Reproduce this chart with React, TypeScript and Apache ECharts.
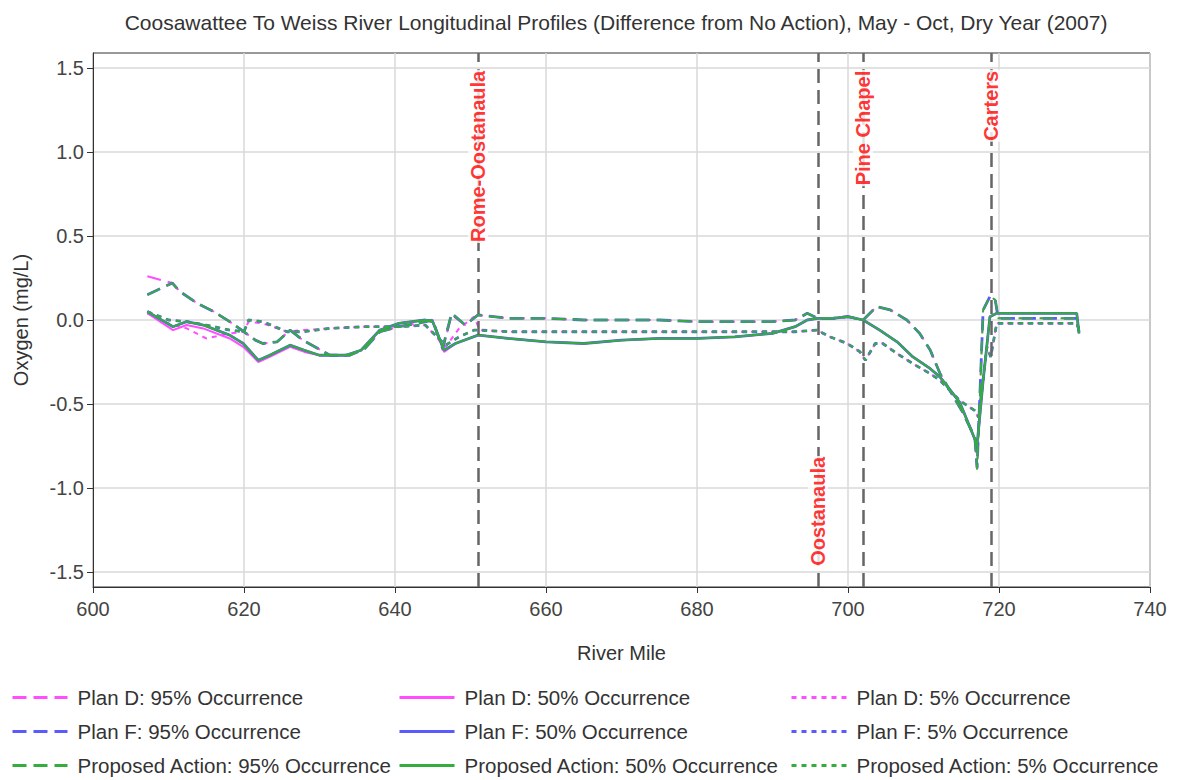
import React, { useEffect, useRef } from 'react';
import * as echarts from 'echarts';

const TITLE = 'Coosawattee To Weiss River Longitudinal Profiles (Difference from No Action), May - Oct, Dry Year (2007)';
const X_NAME = 'River Mile';
const Y_NAME = 'Oxygen (mg/L)';
const FONT = '"Liberation Sans", Arial, sans-serif';

const yTickValues = [-1.5, -1.0, -0.5, 0.0, 0.5, 1.0, 1.5];

// 95% occurrence profiles
const miles95 = [607.2, 610.5, 611.5, 613.8, 616.0, 618.1, 620.0, 621.5, 622.5, 624.4, 626.1, 627.8, 631.4, 634.0, 636.0, 638.0, 640.5, 643.0, 645.0, 646.3, 647.5, 649.3, 651.0, 655, 660, 665, 670, 675, 680, 685, 690, 693.0, 694.6, 696.0, 698.0, 700.0, 702.0, 703.8, 705.6, 707.8, 709.5, 710.9, 712.2, 715.2, 716.8, 717.1, 717.9, 718.8, 719.5, 719.9, 725.0, 730.3, 730.6];
const planD95 = [0.26, 0.22, 0.17, 0.10, 0.05, -0.01, -0.07, -0.12, -0.14, -0.13, -0.06, -0.12, -0.21, -0.21, -0.17, -0.07, -0.04, -0.02, 0.0, -0.18, 0.03, -0.03, 0.03, 0.01, 0.01, 0.0, 0.0, 0.0, -0.01, -0.01, -0.01, 0.0, 0.04, 0.01, 0.01, 0.02, 0.0, 0.08, 0.06, 0.0, -0.08, -0.18, -0.32, -0.55, -0.70, -0.89, 0.06, 0.14, 0.12, 0.01, 0.01, 0.01, -0.07];
const planF95 = [0.15, 0.22, 0.17, 0.10, 0.05, -0.01, -0.07, -0.12, -0.14, -0.13, -0.06, -0.12, -0.21, -0.21, -0.17, -0.07, -0.04, -0.02, 0.0, -0.17, 0.04, -0.03, 0.03, 0.01, 0.01, 0.0, 0.0, 0.0, -0.01, -0.01, -0.01, 0.0, 0.04, 0.01, 0.01, 0.02, 0.0, 0.08, 0.06, 0.0, -0.08, -0.18, -0.32, -0.55, -0.70, -0.88, 0.06, 0.14, 0.12, 0.01, 0.01, 0.01, -0.07];
const proposed95 = [0.15, 0.22, 0.17, 0.10, 0.05, -0.01, -0.07, -0.12, -0.14, -0.13, -0.06, -0.12, -0.21, -0.21, -0.17, -0.07, -0.04, -0.02, 0.0, -0.17, 0.04, -0.03, 0.03, 0.01, 0.01, 0.0, 0.0, 0.0, -0.01, -0.01, -0.01, 0.0, 0.04, 0.01, 0.01, 0.02, 0.0, 0.08, 0.06, 0.0, -0.08, -0.18, -0.32, -0.55, -0.70, -0.89, 0.06, 0.14, 0.12, 0.01, 0.01, 0.01, -0.07];

// 50% occurrence profiles
const miles50 = [607.2, 610.6, 612.4, 614.6, 618.1, 619.9, 621.9, 623.4, 626.1, 628.0, 630.0, 633.5, 635.5, 638.0, 640.5, 644.0, 645.0, 646.5, 648.0, 651.0, 655, 660, 665, 670, 675, 680, 685, 690, 693.0, 694.6, 696.0, 698.0, 700.0, 702.0, 704.2, 706.5, 708.6, 710.9, 712.2, 714.8, 716.8, 717.1, 717.9, 718.8, 719.7, 725.0, 730.3, 730.6];
const planD50 = [0.04, -0.06, -0.03, -0.05, -0.11, -0.16, -0.25, -0.22, -0.16, -0.19, -0.21, -0.21, -0.18, -0.06, -0.02, 0.0, -0.01, -0.19, -0.14, -0.09, -0.11, -0.13, -0.14, -0.12, -0.11, -0.11, -0.10, -0.08, -0.04, 0.0, 0.01, 0.01, 0.02, 0.0, -0.06, -0.13, -0.22, -0.29, -0.34, -0.49, -0.71, -0.75, -0.36, 0.02, 0.04, 0.04, 0.04, -0.08];
const planF50 = [0.05, -0.04, -0.01, -0.03, -0.09, -0.14, -0.24, -0.21, -0.15, -0.18, -0.21, -0.21, -0.18, -0.06, -0.02, 0.0, -0.01, -0.18, -0.14, -0.09, -0.11, -0.13, -0.14, -0.12, -0.11, -0.11, -0.10, -0.08, -0.04, 0.0, 0.01, 0.01, 0.02, 0.0, -0.06, -0.13, -0.22, -0.29, -0.34, -0.49, -0.71, -0.74, -0.36, 0.02, 0.04, 0.04, 0.04, -0.08];
const proposed50 = [0.05, -0.04, -0.01, -0.03, -0.09, -0.14, -0.24, -0.21, -0.15, -0.18, -0.21, -0.21, -0.18, -0.06, -0.02, 0.0, -0.01, -0.18, -0.14, -0.09, -0.11, -0.13, -0.14, -0.12, -0.11, -0.11, -0.10, -0.08, -0.04, 0.0, 0.01, 0.01, 0.02, 0.0, -0.06, -0.13, -0.22, -0.29, -0.34, -0.49, -0.71, -0.75, -0.36, 0.02, 0.04, 0.04, 0.04, -0.08];

// 5% occurrence profiles
const miles5 = [607.2, 610.0, 612.4, 615.0, 618.1, 620.0, 620.6, 622.5, 625.7, 627.8, 631.4, 636.0, 640.7, 644.0, 646.7, 648.5, 650.5, 651.2, 655, 660, 665, 670, 675, 680, 685, 690, 693.0, 695.9, 697.6, 699.9, 701.6, 702.3, 703.6, 704.6, 706.5, 708.6, 710.9, 712.2, 714.8, 716.8, 717.3, 718.4, 718.9, 719.7, 725.0, 730.3, 730.6];
const planD5 = [0.04, -0.02, -0.05, -0.11, -0.08, -0.07, -0.01, -0.02, -0.07, -0.06, -0.05, -0.04, -0.04, -0.03, -0.16, -0.05, 0.02, -0.06, -0.07, -0.07, -0.07, -0.07, -0.07, -0.07, -0.07, -0.07, -0.07, -0.06, -0.10, -0.14, -0.19, -0.24, -0.14, -0.14, -0.20, -0.26, -0.32, -0.36, -0.48, -0.54, -0.58, -0.16, -0.22, -0.02, -0.02, -0.02, -0.06];
const planF5 = [0.05, 0.0, -0.01, -0.03, -0.06, -0.07, 0.0, -0.01, -0.07, -0.07, -0.05, -0.04, -0.04, -0.03, -0.15, -0.10, -0.06, -0.06, -0.07, -0.07, -0.07, -0.07, -0.07, -0.07, -0.07, -0.07, -0.07, -0.06, -0.10, -0.14, -0.19, -0.24, -0.14, -0.14, -0.20, -0.26, -0.32, -0.36, -0.48, -0.54, -0.58, -0.16, -0.22, -0.02, -0.02, -0.02, -0.06];
const proposed5 = [0.05, 0.0, -0.01, -0.03, -0.06, -0.07, 0.0, -0.01, -0.07, -0.07, -0.05, -0.04, -0.04, -0.03, -0.15, -0.10, -0.06, -0.06, -0.07, -0.07, -0.07, -0.07, -0.07, -0.07, -0.07, -0.07, -0.07, -0.06, -0.10, -0.14, -0.19, -0.24, -0.14, -0.14, -0.20, -0.26, -0.32, -0.36, -0.48, -0.54, -0.58, -0.16, -0.22, -0.02, -0.02, -0.02, -0.06];

// reference locations
const markerNames = ['Rome-Oostanaula', 'Oostanaula', 'Pine Chapel', 'Carters'];
const markerMiles = [651, 696, 702, 719];
const markerLabelAnchor = [1.49, -1.47, 1.49, 1.49];

const PINK = '#ff4dff';
const BLUE = '#5a5aff';
const GREEN = '#34ad3e';
const DASH_LONG = [14, 7];
const DASH_DOT = [5, 5];

const zip = (m: number[], v: number[]) => m.map((x, i) => [x, v[i]]);

const seriesDefs = [
  { name: 'Plan D: 95% Occurrence', miles: miles95, vals: planD95, color: PINK, dash: DASH_LONG, width: 2 },
  { name: 'Plan D: 50% Occurrence', miles: miles50, vals: planD50, color: PINK, dash: 'solid', width: 2 },
  { name: 'Plan D: 5% Occurrence', miles: miles5, vals: planD5, color: PINK, dash: DASH_DOT, width: 2 },
  { name: 'Plan F: 95% Occurrence', miles: miles95, vals: planF95, color: BLUE, dash: DASH_LONG, width: 2.8 },
  { name: 'Plan F: 50% Occurrence', miles: miles50, vals: planF50, color: BLUE, dash: 'solid', width: 2.8 },
  { name: 'Plan F: 5% Occurrence', miles: miles5, vals: planF5, color: BLUE, dash: DASH_DOT, width: 2.8 },
  { name: 'Proposed Action: 95% Occurrence', miles: miles95, vals: proposed95, color: GREEN, dash: DASH_LONG, width: 2 },
  { name: 'Proposed Action: 50% Occurrence', miles: miles50, vals: proposed50, color: GREEN, dash: 'solid', width: 2 },
  { name: 'Proposed Action: 5% Occurrence', miles: miles5, vals: proposed5, color: GREEN, dash: DASH_DOT, width: 2 },
];

const legendCols = [11, 398, 790];
const legendRows = [697, 731, 765];

export default function App() {
  const ref = useRef<HTMLDivElement>(null);
  useEffect(() => {
    if (!ref.current) return;
    document.body.style.margin = '0';
    const chart = echarts.init(ref.current, null, { renderer: 'svg' });

    const lineSeries = seriesDefs.map((d) => ({
      name: d.name,
      type: 'line',
      data: zip(d.miles, d.vals),
      symbol: 'none',
      showSymbol: false,
      silent: true,
      lineStyle: { color: d.color, width: d.width, type: d.dash },
      itemStyle: { color: d.color },
    }));

    // column = occurrence (i % 3), row = plan (i / 3)
    const legends = seriesDefs.map((d, i) => ({
      data: [d.name],
      left: legendCols[i % 3],
      top: legendRows[Math.floor(i / 3)] - 10,
      padding: 0,
      itemWidth: 55,
      itemHeight: 20,
      selectedMode: false,
      itemStyle: { opacity: 0 },
      lineStyle: { width: 3 },
      textStyle: { fontFamily: FONT, fontSize: 20.5, color: '#333', padding: [0, 0, 0, 5] },
    }));

    const markerSeries = {
      type: 'scatter',
      name: 'markers',
      silent: true,
      symbolSize: 0,
      z: 5,
      data: markerMiles.map((m, i) => ({
        value: [m, markerLabelAnchor[i]],
        label: { align: markerLabelAnchor[i] > 0 ? 'right' : 'left' },
      })),
      label: {
        show: true,
        position: 'inside',
        rotate: 90,
        verticalAlign: 'middle',
        formatter: (p: any) => markerNames[p.dataIndex],
        color: '#ff0000',
        fontWeight: 'bold',
        fontSize: 20,
        fontFamily: FONT,
        backgroundColor: '#ffffff',
        padding: [0, 1],
      },
      markLine: {
        silent: true,
        symbol: ['none', 'none'],
        label: { show: false },
        lineStyle: { color: '#666666', type: [14, 7], width: 2.5 },
        data: markerMiles.map((m) => ({ xAxis: m })),
      },
    };

    chart.setOption({
      animation: false,
      backgroundColor: '#ffffff',
      title: {
        text: TITLE,
        left: 611,
        textAlign: 'center',
        top: 7,
        textStyle: { fontFamily: FONT, fontSize: 21, fontWeight: 'normal', color: '#333' },
      },
      grid: {
        left: 93, right: 28, top: 53, bottom: 193,
        show: true, borderColor: '#333', borderWidth: 1, backgroundColor: 'transparent',
        outerBoundsMode: 'none',
      },
      legend: legends,
      xAxis: {
        type: 'value', min: 600, max: 740, interval: 20,
        name: X_NAME, nameLocation: 'middle', nameGap: 56,
        nameTextStyle: { fontFamily: FONT, fontSize: 20, color: '#333' },
        axisLine: { show: true, onZero: false, lineStyle: { color: '#333' } },
        axisTick: { show: true, length: 6, lineStyle: { color: '#333' } },
        axisLabel: { fontFamily: FONT, fontSize: 20, color: '#444', margin: 12 },
        splitLine: { show: true, lineStyle: { color: '#d8d8d8', width: 1.5 } },
      },
      yAxis: {
        type: 'value', min: -1.59, max: 1.59,
        name: Y_NAME, nameLocation: 'middle', nameGap: 62, nameRotate: 90,
        nameTextStyle: { fontFamily: FONT, fontSize: 20, color: '#333' },
        axisLine: { show: true, onZero: false, lineStyle: { color: '#333' } },
        axisTick: { show: true, length: 6, lineStyle: { color: '#333' }, customValues: yTickValues },
        axisLabel: {
          fontFamily: FONT, fontSize: 20, color: '#444', margin: 9,
          customValues: yTickValues,
          formatter: (v: number) => v.toFixed(1),
        },
        splitLine: { show: true, lineStyle: { color: '#d8d8d8', width: 1.5 } },
      },
      series: [...lineSeries, markerSeries],
    });
    return () => chart.dispose();
  }, []);
  return <div ref={ref} style={{ width: 1178, height: 780, position: 'absolute', left: 0, top: 0 }} />;
}
